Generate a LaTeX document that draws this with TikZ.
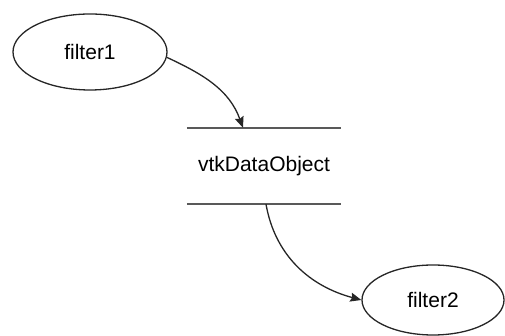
\documentclass[tikz,border=0pt]{standalone}
\usepackage{fontspec}
\setmainfont{Liberation Sans}
\usetikzlibrary{arrows.meta,shapes.geometric}
\begin{document}
\begin{tikzpicture}[x=1pt,y=1pt,
  proc/.style={draw=black!85, line width=1.3pt, ellipse, minimum width=154pt, minimum height=76pt, inner sep=0pt, font=\fontsize{21}{25}\selectfont},
  storebox/.style={minimum width=154pt, minimum height=76pt, inner sep=0pt, font=\fontsize{21}{25}\selectfont},
  storeline/.style={draw=black!65, line width=2.4pt},
  flow/.style={draw=black!85, line width=1.3pt, -{Stealth[length=11pt,width=9pt,inset=1.5pt]}}]
\useasboundingbox (0,0) rectangle (505,336);
\node[proc] (f1) at (90,284) {filter1};
\node[proc, minimum width=142pt, minimum height=70pt] (f2) at (433,36) {filter2};
\node[storebox] (st) at (264,170) {vtkDataObject};
\draw[storeline] (st.north west) -- (st.north east);
\draw[storeline] (st.south west) -- (st.south east);
\draw[flow] (f1.-4) to[out=-25,in=110] ([xshift=-21pt]st.north);
\draw[flow] ([xshift=2pt]st.south) to[out=-80,in=165] (f2.west);
\end{tikzpicture}
\end{document}
